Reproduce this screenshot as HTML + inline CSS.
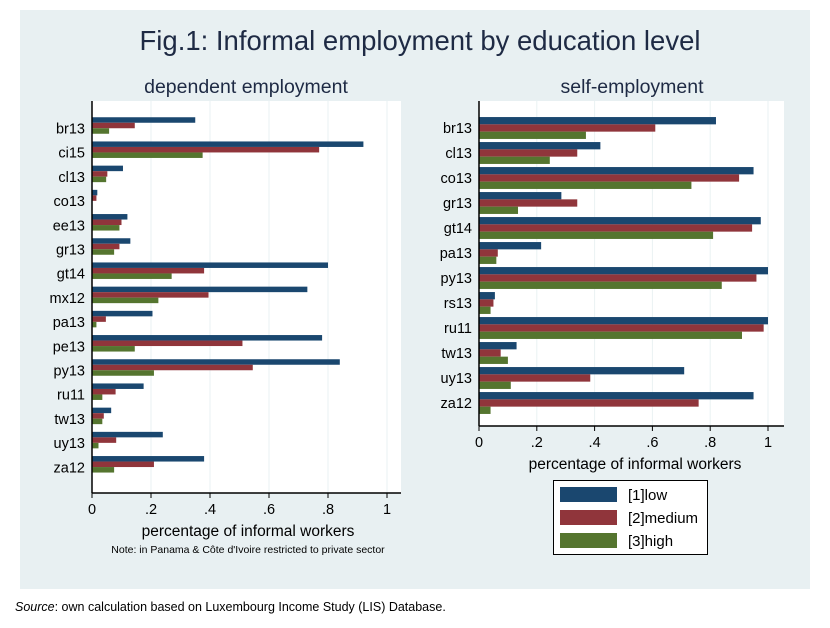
<!DOCTYPE html>
<html><head><meta charset="utf-8"><style>
body{margin:0;background:#fff;width:830px;height:623px;overflow:hidden;font-family:"Liberation Sans",sans-serif}
</style></head><body>
<svg width="830" height="623" xmlns="http://www.w3.org/2000/svg" font-family="Liberation Sans, sans-serif">
<rect x="20" y="10" width="790" height="579" fill="#e8f0f2"/>
<text x="420" y="50" font-size="27.5" text-anchor="middle" fill="#1e2a44">Fig.1: Informal employment by education level</text>
<text x="246" y="93" font-size="19.5" text-anchor="middle" fill="#1e2a44">dependent employment</text>
<text x="632" y="93" font-size="19.5" text-anchor="middle" fill="#1e2a44">self-employment</text>
<g id="L"></g><g id="R"></g>
<rect x="553.5" y="480.5" width="154" height="74" fill="#fff" stroke="#000"/>
<rect x="560" y="487" width="57" height="15" fill="#1a476f"/>
<rect x="560" y="510" width="57" height="15" fill="#90353b"/>
<rect x="560" y="533" width="57" height="15" fill="#55752f"/>
<g font-size="15" fill="#000"><text x="628" y="500">[1]low</text><text x="628" y="523">[2]medium</text><text x="628" y="546">[3]high</text></g>
<text x="248" y="536" font-size="15.5" text-anchor="middle">percentage of informal workers</text>
<text x="248" y="553" font-size="10.5" text-anchor="middle">Note: in Panama &amp; Côte d'Ivoire restricted to private sector</text>
<text x="635" y="469" font-size="15.5" text-anchor="middle">percentage of informal workers</text>
<text x="15" y="611" font-size="12.5" fill="#000"><tspan font-style="italic">Source</tspan>: own calculation based on Luxembourg Income Study (LIS) Database.</text>
</svg>
<script>
function draw(id,x0,scale,top,right,axisY,labels,data,c0,step,bh,ly){
  var g=document.getElementById(id),s='';
  s+='<rect x="'+x0+'" y="'+top+'" width="'+(right-x0)+'" height="'+(axisY-top)+'" fill="#fff"/>';
  for(var t=0;t<=5;t++){var x=x0+scale*t*0.2;
    if(t>0)s+='<line x1="'+x+'" y1="'+top+'" x2="'+x+'" y2="'+axisY+'" stroke="#eaf2f3" stroke-width="1"/>';
    s+='<line x1="'+x+'" y1="'+axisY+'" x2="'+x+'" y2="'+(axisY+5)+'" stroke="#000"/>';
    s+='<text x="'+x+'" y="'+(axisY+21)+'" font-size="14.5" text-anchor="middle">'+(t==0?'0':t==5?'1':'.'+(2*t))+'</text>';}
  var cols=['#1a476f','#90353b','#55752f'];
  for(var i=0;i<labels.length;i++){var c=c0+i*step;
    s+='<text x="'+(x0-7)+'" y="'+(c+ly)+'" font-size="14.5" text-anchor="end">'+labels[i]+'</text>';
    for(var k=0;k<3;k++){var w=data[i][k]*scale;if(w>0)s+='<rect x="'+x0+'" y="'+(c-1.5*bh+k*bh)+'" width="'+w+'" height="'+bh+'" fill="'+cols[k]+'"/>';}}
  s+='<line x1="'+x0+'" y1="'+top+'" x2="'+x0+'" y2="'+axisY+'" stroke="#000" stroke-width="1.5"/>';
  s+='<line x1="'+x0+'" y1="'+axisY+'" x2="'+right+'" y2="'+axisY+'" stroke="#000" stroke-width="1.5"/>';
  g.innerHTML=s;
}
draw('L',92,295,101,401,493,['br13','ci15','cl13','co13','ee13','gr13','gt14','mx12','pa13','pe13','py13','ru11','tw13','uy13','za12'],
[[.35,.145,.058],[.92,.77,.375],[.105,.052,.048],[.018,.015,0],[.12,.1,.093],[.13,.093,.075],[.80,.38,.27],[.73,.395,.225],[.205,.047,.015],[.78,.51,.145],[.84,.545,.21],[.175,.08,.035],[.065,.04,.035],[.24,.082,.022],[.38,.21,.075]],
125.5,24.2,5.5,8);
draw('R',479,289,101,784,426,['br13','cl13','co13','gr13','gt14','pa13','py13','rs13','ru11','tw13','uy13','za12'],
[[.82,.61,.37],[.42,.34,.245],[.95,.90,.735],[.285,.34,.135],[.975,.945,.81],[.215,.065,.06],[1.0,.96,.84],[.055,.05,.04],[1.0,.985,.91],[.13,.075,.10],[.71,.385,.11],[.95,.76,.04]],
128,25,7.3,5);
</script>
</body></html>
